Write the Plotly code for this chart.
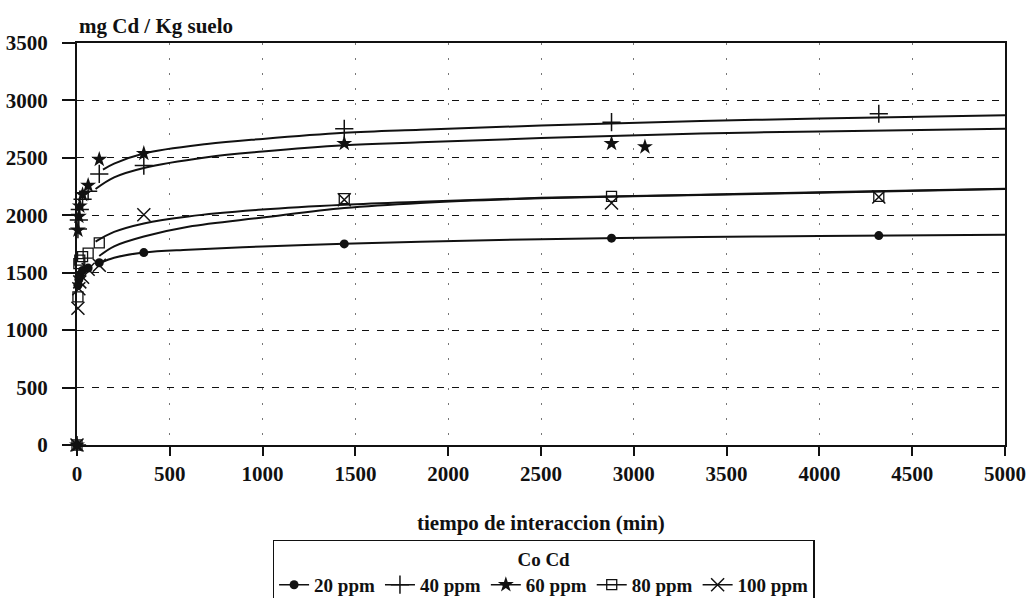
import plotly.graph_objects as go

# ---- data ----
series_names = ["20 ppm", "40 ppm", "60 ppm", "80 ppm", "100 ppm"]

t_obs = [0, 5, 10, 15, 30, 60, 120, 360, 1440, 2880, 4320]
t_obs_60 = [0, 5, 10, 15, 30, 60, 120, 360, 1440, 2880, 3060]
t_obs_80 = [0, 5, 10, 15, 30, 60, 120, 1440, 2880, 4320]

q_20 = [0, 1390, 1440, 1480, 1520, 1540, 1587, 1675, 1751, 1801, 1823]
q_40 = [0, 1880, 1960, 2050, 2140, 2210, 2360, 2433, 2753, 2811, 2884]
q_60 = [0, 1870, 1990, 2080, 2180, 2260, 2486, 2538, 2625, 2625, 2596]
q_80 = [0, 1290, 1580, 1610, 1640, 1670, 1760, 2145, 2165, 2165]
q_100 = [0, 1190, 1360, 1420, 1460, 1530, 1565, 2004, 2136, 2107, 2160]

# fitted curves
t_fit = [140, 200, 360, 700, 1000, 1440, 1850, 2500, 3360, 4000, 5000]
fit_40 = [2398, 2450, 2538, 2620, 2665, 2718, 2745, 2782, 2820, 2842, 2870]
t_fit_60 = [100, 200, 360, 700, 1000, 1440, 1850, 2500, 3360, 4000, 5000]
fit_60 = [2229, 2330, 2412, 2505, 2555, 2610, 2635, 2672, 2712, 2730, 2753]
t_fit_80 = [100, 200, 360, 600, 1000, 1440, 1850, 2500, 3360, 4000, 5000]
fit_80 = [1771, 1855, 1929, 1990, 2050, 2092, 2118, 2152, 2179, 2200, 2230]
t_fit_100 = [120, 200, 360, 600, 1000, 1440, 1850, 2500, 3360, 4000, 5000]
fit_100 = [1646, 1730, 1815, 1900, 1980, 2063, 2108, 2148, 2176, 2197, 2228]
t_fit_20 = [125, 200, 360, 600, 1000, 1440, 1850, 2500, 3360, 4000, 5000]
fit_20 = [1585, 1630, 1675, 1700, 1728, 1752, 1770, 1792, 1810, 1820, 1830]

x_ticks = [0, 500, 1000, 1500, 2000, 2500, 3000, 3500, 4000, 4500, 5000]
y_ticks = [0, 500, 1000, 1500, 2000, 2500, 3000, 3500]

FONT = "Liberation Serif"
BLACK = "#111111"

markers = {
    "20 ppm": dict(symbol="circle", size=9, color=BLACK, line=dict(width=0)),
    "40 ppm": dict(symbol="cross-thin-open", size=13, color=BLACK, line=dict(width=1.5, color=BLACK)),
    "60 ppm": dict(symbol="star", size=12, color=BLACK, line=dict(width=0)),
    "80 ppm": dict(symbol="square-open", size=10, color=BLACK, line=dict(width=1.3, color=BLACK)),
    "100 ppm": dict(symbol="x-thin-open", size=13, color=BLACK, line=dict(width=1.5, color=BLACK)),
}

obs = {
    "20 ppm": (t_obs, q_20),
    "40 ppm": (t_obs, q_40),
    "60 ppm": (t_obs_60, q_60),
    "80 ppm": (t_obs_80, q_80),
    "100 ppm": (t_obs, q_100),
}
fits = {
    "20 ppm": (t_fit_20, fit_20),
    "40 ppm": (t_fit, fit_40),
    "60 ppm": (t_fit_60, fit_60),
    "80 ppm": (t_fit_80, fit_80),
    "100 ppm": (t_fit_100, fit_100),
}

fig = go.Figure()
for name in series_names:
    fx, fy = fits[name]
    fig.add_trace(go.Scatter(x=fx, y=fy, mode="lines", line=dict(color=BLACK, width=2, shape="spline"),
                             showlegend=False, hoverinfo="skip"))
for name in series_names:
    ox, oy = obs[name]
    fig.add_trace(go.Scatter(x=ox, y=oy, mode="markers", marker=markers[name], showlegend=False,
                             cliponaxis=False, name=name))
# legend entries (line + marker like the original)
for name in series_names:
    fig.add_trace(go.Scatter(x=[None], y=[None], mode="lines+markers", name=name,
                             marker=markers[name], line=dict(color=BLACK, width=1.5)))

fig.update_layout(
    width=1031, height=598,
    margin=dict(l=77, r=26, t=43, b=153, autoexpand=False),
    paper_bgcolor="white", plot_bgcolor="white",
    font=dict(family=FONT, size=19, color=BLACK),
    legend=dict(
        orientation="h", x=0.503, xanchor="center", y=-0.236, yanchor="top",
        bordercolor=BLACK, borderwidth=1.3,
        font=dict(family=FONT, size=19, color=BLACK, weight="bold"),
        title=dict(text="<b>Co Cd</b>", side="top center", font=dict(family=FONT, size=19, color=BLACK)),
        itemwidth=30, tracegroupgap=0, traceorder="normal",
    ),
    xaxis=dict(
        range=[0, 5000], tickvals=x_ticks, ticktext=[str(v) for v in x_ticks],
        showline=True, linecolor=BLACK, linewidth=2, mirror=True,
        ticks="outside", ticklen=9, tickwidth=1.5, tickcolor=BLACK,
        showgrid=True, gridcolor="#777777", gridwidth=1, griddash="2px,13px",
        zeroline=False,
        tickfont=dict(family=FONT, size=21, color=BLACK, weight="bold"),
    ),
    yaxis=dict(
        range=[0, 3500], tickvals=y_ticks, ticktext=[str(v) for v in y_ticks],
        showline=True, linecolor=BLACK, linewidth=2, mirror=True,
        ticks="outside", ticklen=13, tickwidth=1.5, tickcolor=BLACK,
        showgrid=True, gridcolor=BLACK, gridwidth=1, griddash="7px,8px",
        zeroline=False, ticklabelstandoff=10,
        tickfont=dict(family=FONT, size=21, color=BLACK, weight="bold"),
    ),
    annotations=[
        dict(text="<b>mg Cd / Kg suelo</b>", xref="paper", yref="paper", x=0.0, y=1.0,
             xanchor="left", yanchor="bottom", yshift=3, showarrow=False,
             font=dict(family=FONT, size=21, color=BLACK)),
        dict(text="<b>tiempo de interaccion (min)</b>", xref="paper", yref="paper", x=0.5, y=-0.194,
             xanchor="center", yanchor="middle", showarrow=False,
             font=dict(family=FONT, size=21, color=BLACK)),
    ],
)

fig.write_html("out.html")
